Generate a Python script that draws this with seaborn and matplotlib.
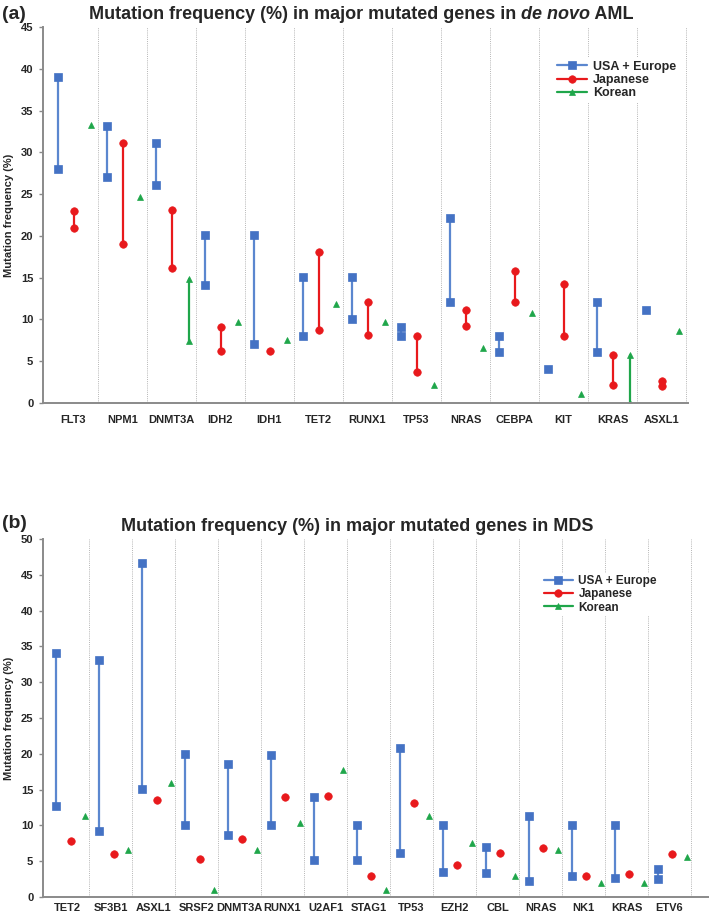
import numpy as np
import pandas as pd
import matplotlib
matplotlib.use("Agg")
import matplotlib.pyplot as plt
import seaborn as sns

# ---- panel (a): de novo AML ----
aml_genes = ['FLT3', 'NPM1', 'DNMT3A', 'IDH2', 'IDH1', 'TET2', 'RUNX1',
             'TP53', 'NRAS', 'CEBPA', 'KIT', 'KRAS', 'ASXL1']
aml_usa_lo = [28.0, 27.1, 26.1, 14.1, 7.1, 8.0, 10.0, 8.0, 12.1, 6.1, 4.1, 6.1, 11.1]
aml_usa_hi = [39.0, 33.1, 31.1, 20.1, 20.1, 15.1, 15.1, 9.1, 22.1, 8.0, np.nan, 12.1, np.nan]
aml_jpn_lo = [21.0, 19.0, 16.2, 6.2, 6.2, 8.7, 8.1, 3.7, 9.2, 12.1, 8.0, 2.1, 2.0]
aml_jpn_hi = [23.0, 31.1, 23.1, 9.1, np.nan, 18.1, 12.1, 8.0, 11.1, 15.8, 14.3, 5.7, 2.6]
aml_kor_lo = [33.3, 24.7, 7.4, 9.7, 7.5, 11.8, 9.7, 2.2, 6.6, 10.8, 1.1, 0.0, 8.6]
aml_kor_hi = [np.nan, np.nan, 14.8, np.nan, np.nan, np.nan, np.nan, np.nan,
              np.nan, np.nan, np.nan, 5.7, np.nan]

# ---- panel (b): MDS ----
mds_genes = ['TET2', 'SF3B1', 'ASXL1', 'SRSF2', 'DNMT3A', 'RUNX1', 'U2AF1', 'STAG1',
             'TP53', 'EZH2', 'CBL', 'NRAS', 'NK1', 'KRAS', 'ETV6']
mds_usa_lo = [12.7, 9.2, 15.1, 10.1, 8.7, 10.1, 5.2, 5.2, 6.1, 3.5, 3.4, 2.3, 2.9, 2.6, 2.5]
mds_usa_hi = [34.1, 33.1, 46.6, 20.0, 18.6, 19.8, 13.9, 10.1, 20.8, 10.0, 7.0, 11.3, 10.0, 10.1, 3.9]
mds_jpn = [7.85, 6.0, 13.6, 5.3, 8.1, 13.9, 14.1, 3.0, 13.1, 4.4, 6.1, 6.8, 3.0, 3.2, 6.0]
mds_kor = [11.3, 6.5, 15.9, 1.0, 6.5, 10.3, 17.8, 1.0, 11.3, 7.6, 2.9, 6.6, 1.9, 1.9, 5.6]

groups = ['USA + Europe', 'Japanese', 'Korean']
line_col = {'USA + Europe': '#5b87cf', 'Japanese': '#e8191c', 'Korean': '#1fa64a'}
face_col = {'USA + Europe': '#4472c4', 'Japanese': '#e8191c', 'Korean': '#1fa64a'}
marker = {'USA + Europe': 's', 'Japanese': 'o', 'Korean': '^'}
msize = {'USA + Europe': 5.2, 'Japanese': 5.4, 'Korean': 4.4}


def to_long(genes, series, offsets):
    rows = []
    for g, (lo, hi), off in zip(groups, series, offsets):
        for i, gene in enumerate(genes):
            for v in (lo[i], hi[i]):
                if not np.isnan(v):
                    rows.append({'gene': gene, 'group': g, 'x': i + off, 'value': v})
    return pd.DataFrame(rows)


nan15 = [np.nan] * len(mds_genes)
aml_df = to_long(aml_genes,
                 [(aml_usa_lo, aml_usa_hi), (aml_jpn_lo, aml_jpn_hi), (aml_kor_lo, aml_kor_hi)],
                 [-0.32, 0.01, 0.36])
mds_df = to_long(mds_genes,
                 [(mds_usa_lo, mds_usa_hi), (mds_jpn, nan15), (mds_kor, nan15)],
                 [-0.26, 0.07, 0.41])

sns.set_style('white')
plt.rcParams['font.family'] = ['Liberation Sans', 'DejaVu Sans']

W, H = 709, 914
fig = plt.figure(figsize=(W / 100, H / 100), dpi=100)


def draw_panel(ax, df, genes, ymax, xlim, leg_anchor, leg_fs, xpad):
    for g in groups:
        sub = df[df['group'] == g]
        sns.lineplot(data=sub, x='x', y='value', units='gene', estimator=None,
                     sort=False, color=line_col[g], marker=marker[g],
                     markersize=msize[g], markerfacecolor=face_col[g],
                     markeredgecolor=face_col[g], markeredgewidth=0.5,
                     linewidth=1.6, label=g, ax=ax)
    for i in range(len(genes)):
        ax.axvline(i + 0.5, color='#b5b5b5', linestyle=(0, (1, 1.2)), linewidth=0.7, zorder=0)
    ax.set_xlim(*xlim)
    ax.set_ylim(0, ymax)
    ax.set_yticks(np.arange(0, ymax + 1, 5))
    ax.set_xticks(range(len(genes)))
    ax.set_xticklabels(genes, fontsize=8, fontweight='bold')
    for t in ax.get_yticklabels():
        t.set_fontsize(8)
        t.set_fontweight('bold')
    ax.set_xlabel('')
    ax.set_ylabel('Mutation frequency (%)', fontsize=8, fontweight='bold', labelpad=5)
    for s in ['top', 'right']:
        ax.spines[s].set_visible(False)
    for s in ['left', 'bottom']:
        ax.spines[s].set_color('#8a8a8a')
        ax.spines[s].set_linewidth(1.4)
    ax.tick_params(axis='y', left=True, length=3, width=1, color='#8a8a8a', pad=4)
    ax.tick_params(axis='x', bottom=False, pad=xpad)
    ax.patch.set_alpha(0)
    # one legend entry per group (lineplot adds one per unit)
    handles, labels = ax.get_legend_handles_labels()
    seen = {}
    for h, l in zip(handles, labels):
        seen.setdefault(l, h)
    leg = ax.legend([seen[g] for g in groups], groups, loc='upper left',
                    bbox_to_anchor=leg_anchor, frameon=True,
                    prop={'size': leg_fs, 'weight': 'bold'}, handlelength=2.4,
                    handletextpad=0.5, labelspacing=0.1, borderpad=0.2)
    leg.get_frame().set_edgecolor('none')
    leg.get_frame().set_facecolor('white')
    leg.get_frame().set_alpha(1)


ax_a = fig.add_axes([43 / W, 1 - 403 / H, (688 - 43) / W, 376 / H])
draw_panel(ax_a, aml_df, aml_genes, 45, (-0.62, 12.54),
           ((548 - 43) / 645, (403 - 52) / 376), 9, 5)

ax_b = fig.add_axes([43 / W, 1 - 897 / H, (709 - 43) / W, 358 / H])
draw_panel(ax_b, mds_df, mds_genes, 50, (-0.57, 14.92),
           ((536 - 43) / 666, (897 - 567) / 358), 8.5, 1)

# titles (with italic "de novo")
TFS = 13
t1 = fig.text(89 / W, 1 - 19 / H, 'Mutation frequency (%) in major mutated genes in',
              fontsize=TFS, fontweight='bold', ha='left', va='baseline')
fig.canvas.draw()
bb = t1.get_window_extent()
t2 = fig.text(bb.x1 / W, 1 - 19 / H, ' de novo', fontsize=TFS, fontweight='bold',
              style='italic', ha='left', va='baseline')
fig.canvas.draw()
bb2 = t2.get_window_extent()
fig.text(bb2.x1 / W, 1 - 19 / H, ' AML', fontsize=TFS, fontweight='bold',
         ha='left', va='baseline')

fig.text(357 / W, 1 - 531 / H, 'Mutation frequency (%) in major mutated genes in MDS',
         fontsize=TFS, fontweight='bold', ha='center', va='baseline')

fig.text(2 / W, 1 - 19 / H, '(a)', fontsize=14, fontweight='bold', va='baseline')
fig.text(2 / W, 1 - 528 / H, '(b)', fontsize=14, fontweight='bold', va='baseline')

fig.savefig('out.png', dpi=100)
